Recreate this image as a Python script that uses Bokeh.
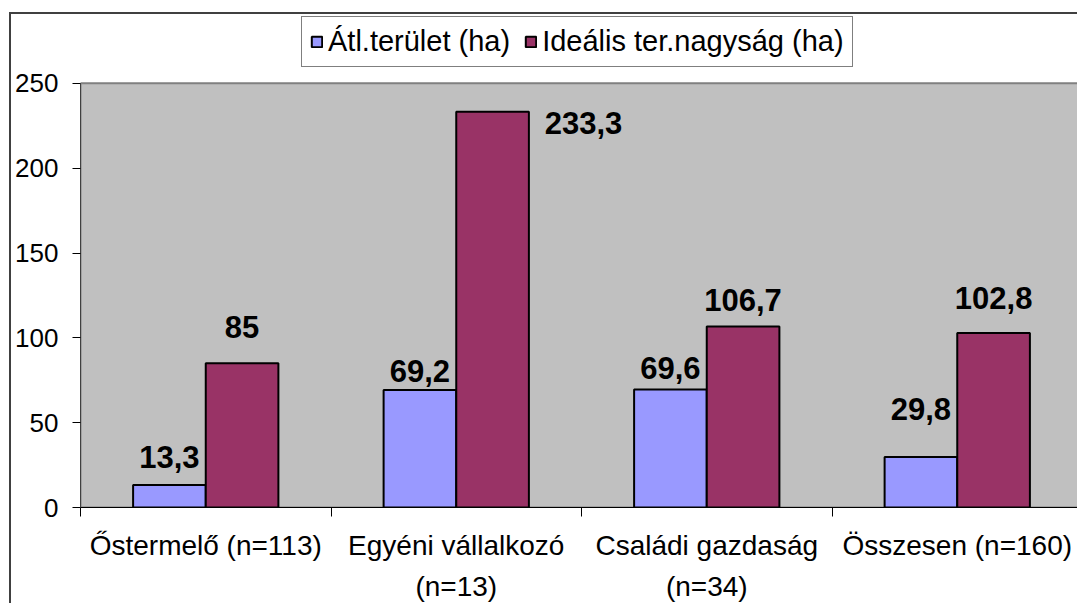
from bokeh.plotting import figure
from bokeh.models import ColumnDataSource, Range1d, FixedTicker, Legend, LegendItem, Spacer
from bokeh.layouts import column, row
from bokeh.core.properties import value
from bokeh.embed import file_html
from bokeh.resources import INLINE

# ---- data ----
categories = ["Őstermelő (n=113)", "Egyéni vállalkozó\n(n=13)", "Családi gazdaság\n(n=34)", "Összesen (n=160)"]
series_names = ["Átl.terület (ha)", "Ideális ter.nagyság (ha)"]
atl_terulet = [13.3, 69.2, 69.6, 29.8]
idealis = [85, 233.3, 106.7, 102.8]
y_ticks = [0, 50, 100, 150, 200, 250]

# ---- label placement (pixel offsets, style only) ----
label_xoff = [[0, 0, 0, 0], [0, 91, 0, 0]]
label_yoff = [[-28, -19, -21, -48], [-36, 11, -26, -35]]

FONT = "Liberation Sans"
colors = ["#9999FF", "#993366"]
bar_w = 0.29
shift = bar_w / 2

n = len(categories)
centers = [i + 0.5 for i in range(n)]
x_end = 3.988            # the right edge of the chart is cut by the window
y_top = y_ticks[-1]
px_per_unit = 1.7        # vertical scale of the plot area
head_px = 69             # white room above the plot area for the legend

p = figure(width=1068, height=591, output_backend="svg", toolbar_location=None,
           x_range=Range1d(0, x_end), y_range=Range1d(0, y_top + head_px / px_per_unit),
           min_border_left=69, min_border_right=0, min_border_top=0, min_border_bottom=97)
p.styles = {"border-left": "2px solid #404040", "border-top": "2px solid #404040"}

p.background_fill_color = "white"
p.border_fill_color = "white"
p.outline_line_color = None

# gray plot area
p.quad(left=0, right=x_end, bottom=0, top=y_top, fill_color="#C0C0C0",
       line_color="#808080", line_width=2)

def fmt(v):
    return f"{v:g}".replace(".", ",")

renderers = []
for k, (vals, col) in enumerate(zip([atl_terulet, idealis], colors)):
    xs = [c + (-shift if k == 0 else shift) for c in centers]
    src = ColumnDataSource(dict(x=xs, top=vals, lab=[fmt(v) for v in vals],
                                xo=label_xoff[k], yo=label_yoff[k]))
    r = p.vbar(x="x", top="top", bottom=0, width=bar_w, source=src,
               fill_color=col, line_color="black", line_width=2)
    renderers.append(r)
    p.text(x="x", y="top", text="lab", source=src, x_offset="xo", y_offset="yo",
           text_font=value(FONT), text_font_style="bold", text_font_size="31px",
           text_align="center", text_baseline="alphabetic", text_color="black")

# axes
p.xaxis.ticker = FixedTicker(ticks=centers, minor_ticks=list(range(n + 1)))
p.xaxis.major_label_overrides = {c: lab for c, lab in zip(centers, categories)}
p.xaxis.major_tick_out = 0
p.xaxis.major_tick_in = 0
p.xaxis.minor_tick_out = 9
p.xaxis.minor_tick_in = 0
p.xaxis.minor_tick_line_color = "black"
p.xaxis.axis_line_color = "black"
p.xaxis.axis_line_width = 1
p.xaxis.major_label_standoff = 13
p.xaxis.major_label_text_font = FONT
p.xaxis.major_label_text_font_size = "28px"
p.xaxis.major_label_text_line_height = 1.35
p.xaxis.major_label_text_color = "black"

p.yaxis.ticker = FixedTicker(ticks=y_ticks)
p.yaxis.bounds = (0, y_top)
p.yaxis.minor_tick_line_color = None
p.yaxis.major_tick_out = 8
p.yaxis.major_tick_in = 0
p.yaxis.major_tick_line_color = "black"
p.yaxis.axis_line_color = "#404040"
p.yaxis.major_label_standoff = 14
p.yaxis.major_label_text_font = FONT
p.yaxis.major_label_text_font_size = "26px"
p.yaxis.major_label_text_color = "black"

p.xgrid.grid_line_color = None
p.ygrid.grid_line_color = "black"
p.ygrid.grid_line_width = 1
p.ygrid.level = "underlay"

legend = Legend(items=[LegendItem(label=s, renderers=[r]) for s, r in zip(series_names, renderers)],
                orientation="horizontal", location=(221, 440),
                label_text_font=FONT, label_text_font_size="29px", label_text_color="black",
                glyph_width=13, glyph_height=13, label_standoff=5, spacing=14,
                padding=8, margin=0, border_line_color="black", border_line_width=1,
                background_fill_color="white", background_fill_alpha=1.0)
p.add_layout(legend, "center")

page = column(Spacer(width=1, height=12), row(Spacer(width=9, height=1), p))
open("out.html", "w").write(file_html(page, INLINE))
